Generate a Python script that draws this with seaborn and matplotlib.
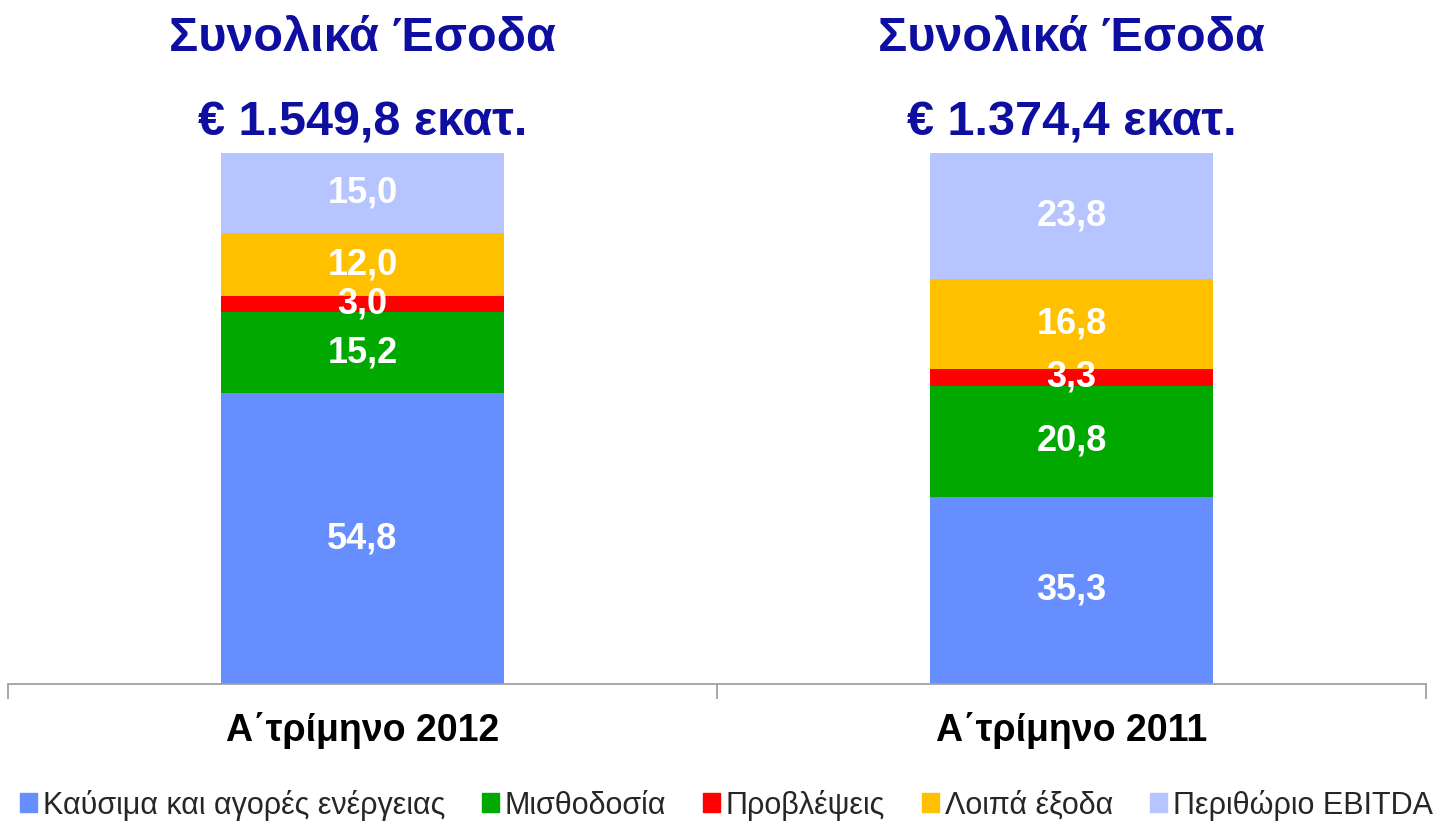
import matplotlib
matplotlib.use("Agg")
import matplotlib.pyplot as plt
import matplotlib.patches as mpatches
import seaborn as sns
import pandas as pd
import numpy as np

categories = ["Α΄τρίμηνο 2012", "Α΄τρίμηνο 2011"]
series_names = ["Καύσιμα και αγορές ενέργειας", "Μισθοδοσία", "Προβλέψεις",
                "Λοιπά έξοδα", "Περιθώριο EBITDA"]
fuel = [54.8, 35.3]
payroll = [15.2, 20.8]
provisions = [3.0, 3.3]
other = [12.0, 16.8]
ebitda = [15.0, 23.8]
totals_text = ["€ 1.549,8 εκατ.", "€ 1.374,4 εκατ."]
title_text = "Συνολικά Έσοδα"
colors = ["#668EFF", "#00A800", "#FF0000", "#FFC000", "#B6C4FF"]

sns.set_theme(style="white")
plt.rcParams['font.family'] = ['Liberation Sans', 'DejaVu Sans']

series = [fuel, payroll, provisions, other, ebitda]
cum = np.cumsum(np.array(series), axis=0)

fig = plt.figure(figsize=(14.44, 8.22), dpi=100)
ax = fig.add_axes([8/1444, 1-684/822, (1426-8)/1444, (684-153)/822])

# draw cumulative bars from top layer down
for i in range(len(series) - 1, -1, -1):
    df = pd.DataFrame({"cat": categories, "val": cum[i]})
    sns.barplot(data=df, x="cat", y="val", order=categories, color=colors[i],
                width=0.4, saturation=1, ax=ax, linewidth=0, errorbar=None)

# value labels
for j in range(len(categories)):
    for i in range(len(series)):
        v = series[i][j]
        bottom = cum[i][j] - v
        ax.text(j, bottom + v / 2, f"{v:.1f}".replace(".", ","), ha="center", va="center",
                color="white", fontsize=26, fontweight="bold")
    ax.text(j, 1.216, title_text, transform=ax.get_xaxis_transform(), ha="center",
            va="center", color="#0E0EA0", fontsize=35, fontweight="bold", clip_on=False)
    ax.text(j, 1.056, totals_text[j], transform=ax.get_xaxis_transform(), ha="center",
            va="center", color="#0E0EA0", fontsize=35, fontweight="bold", clip_on=False)

ax.set_xlim(-0.5, 1.5)
ax.set_ylim(0, 100)
ax.set_xlabel("")
ax.set_ylabel("")
ax.set_yticks([])
for s in ["top", "left", "right"]:
    ax.spines[s].set_visible(False)
ax.spines["bottom"].set_color("#A0A0A0")
ax.spines["bottom"].set_linewidth(1.3)
ax.set_xticks([-0.5, 0.5, 1.5], minor=True)
ax.tick_params(axis="x", which="minor", length=11, width=1.3, color="#A0A0A0",
               direction="out", bottom=True)
ax.tick_params(axis="x", which="major", length=0, pad=20, labelsize=27)
for lab in ax.get_xticklabels():
    lab.set_fontweight("bold")
    lab.set_color("black")

handles = [mpatches.Patch(color=c, label=n) for c, n in zip(colors, series_names)]
fig.legend(handles=handles, loc="center", bbox_to_anchor=(0.503, 1 - 805/822),
           ncol=5, frameon=False, handlelength=0.55, handleheight=0.55,
           handletextpad=0.2, columnspacing=1.2,
           prop={"family": ["Liberation Sans"], "size": 22})

fig.savefig("out.png", dpi=100)
